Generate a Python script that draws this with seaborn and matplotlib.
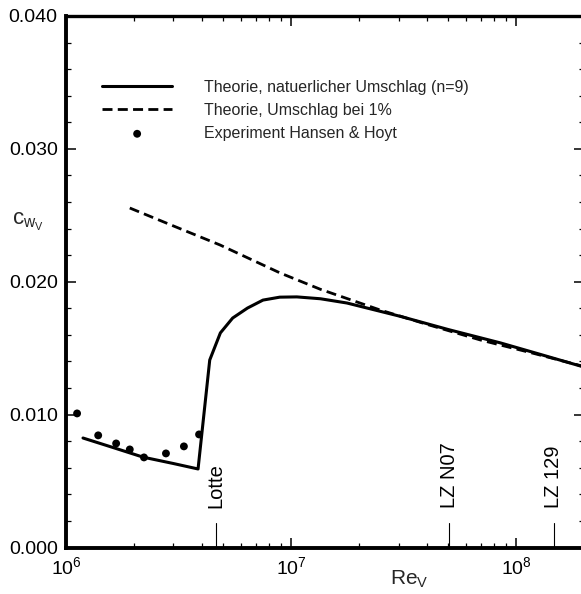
import numpy as np
import pandas as pd
import matplotlib
matplotlib.use("Agg")
import matplotlib.pyplot as plt
from matplotlib.ticker import LogLocator, MultipleLocator, FormatStrFormatter, NullFormatter
import seaborn as sns

# Theory, natural transition (n=9)
re_natural = [1.19e6, 1.6e6, 2.2e6, 3.0e6, 3.86e6, 4.35e6, 4.85e6, 5.5e6, 6.4e6,
              7.5e6, 8.9e6, 1.06e7, 1.35e7, 1.77e7, 3.05e7, 5.0e7, 8.5e7, 1.3e8, 2.0e8]
cw_natural = [0.00824, 0.00755, 0.00680, 0.00632, 0.00591, 0.01411, 0.01615, 0.01727, 0.01802,
              0.01862, 0.01884, 0.01886, 0.01872, 0.01840, 0.01740, 0.01640, 0.01540, 0.01450, 0.01358]

# Theory, transition at 1 %
re_forced = [1.92e6, 3.0e6, 4.83e6, 8.94e6, 1.35e7, 2.49e7, 4.0e7, 6.92e7, 1.2e8, 2.0e8]
cw_forced = [0.02555, 0.02420, 0.02277, 0.02066, 0.01943, 0.01787, 0.01680, 0.01562, 0.01460, 0.01362]

# Experiment Hansen & Hoyt
re_exp = [1.12e6, 1.39e6, 1.67e6, 1.92e6, 2.22e6, 2.78e6, 3.34e6, 3.90e6]
cw_exp = [0.01009, 0.00844, 0.00783, 0.00738, 0.00678, 0.00708, 0.00761, 0.00851]

# Airships and their Reynolds numbers
ship_names = ["Lotte", "LZ N07", "LZ 129"]
ship_re = [4.64e6, 5.03e7, 1.47e8]

label_natural = "Theorie, natuerlicher Umschlag (n=9)"
label_forced = "Theorie, Umschlag bei 1%"
label_exp = "Experiment Hansen & Hoyt"

sns.set_style("ticks")
plt.rcParams["font.family"] = ["Liberation Sans", "DejaVu Sans"]
plt.rcParams["mathtext.fontset"] = "custom"
plt.rcParams["mathtext.rm"] = "Liberation Sans"
plt.rcParams["mathtext.it"] = "Liberation Sans"
plt.rcParams["mathtext.default"] = "regular"

fig = plt.figure(figsize=(5.81, 5.94), dpi=100)
W, H = 581, 594
ax = fig.add_axes([66 / W, (H - 547.5) / H, 518 / W, 531.5 / H])

df_nat = pd.DataFrame({"Re": re_natural, "cw": cw_natural})
df_forced = pd.DataFrame({"Re": re_forced, "cw": cw_forced})
df_exp = pd.DataFrame({"Re": re_exp, "cw": cw_exp})

sns.lineplot(data=df_nat, x="Re", y="cw", ax=ax, color="black", linewidth=2.2,
             sort=False, estimator=None, label=label_natural, zorder=3)
sns.lineplot(data=df_forced, x="Re", y="cw", ax=ax, color="black", linewidth=2.0,
             sort=False, estimator=None, label=label_forced, zorder=2,
             linestyle=(0, (3.6, 1.9)))
sns.scatterplot(data=df_exp, x="Re", y="cw", ax=ax, color="black", s=32,
                edgecolor="none", label=label_exp, zorder=4)

ax.set_xscale("log")
ax.set_xlim(1e6, 2e8)
ax.set_ylim(0.0, 0.040)

# Airship markers along the bottom axis
for name, re in zip(ship_names, ship_re):
    ax.plot([re, re], [0.0, 0.00188], color="black", linewidth=0.8, zorder=2)
    ax.text(re, 0.0030, name, rotation=90, ha="center", va="bottom",
            fontsize=14.5, color="black")

ax.xaxis.set_major_locator(LogLocator(base=10, numticks=10))
ax.xaxis.set_minor_locator(LogLocator(base=10, subs=np.arange(2, 10), numticks=100))
ax.xaxis.set_minor_formatter(NullFormatter())
ax.yaxis.set_major_locator(MultipleLocator(0.010))
ax.yaxis.set_minor_locator(MultipleLocator(0.002))
ax.yaxis.set_major_formatter(FormatStrFormatter("%.3f"))

ax.tick_params(which="both", direction="in", top=True, right=True, colors="black",
               labelsize=14)
ax.tick_params(which="major", length=7.5, width=1.1, pad=6)
ax.tick_params(which="minor", length=3.8, width=0.9)

for side, lw in (("left", 2.8), ("bottom", 2.8), ("top", 2.4), ("right", 2.4)):
    ax.spines[side].set_linewidth(lw)
    ax.spines[side].set_color("black")

ax.set_xlabel(r"$Re_V$", fontsize=15)
ax.xaxis.set_label_coords((409 - 66) / 518, (547.5 - 569) / 531.5)
ax.set_ylabel(r"$c_{w_V}$", fontsize=16, rotation=0, ha="center", va="center")
ax.yaxis.set_label_coords((28 - 66) / 518, (547.5 - 222) / 531.5)

ax.legend(loc="upper left", bbox_to_anchor=(102 / W, 1 - 80 / H),
          bbox_transform=fig.transFigure, frameon=False, fontsize=11.5,
          handlelength=4.4, handletextpad=2.0, labelspacing=0.5,
          borderpad=0, borderaxespad=0, scatterpoints=1)

fig.savefig("out.png", dpi=100)
